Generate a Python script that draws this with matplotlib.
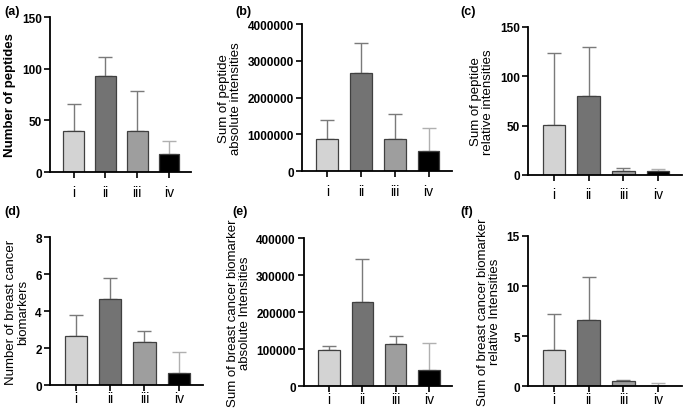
import matplotlib
matplotlib.use('Agg')
import matplotlib.pyplot as plt

plt.rcParams['font.family'] = ['Liberation Sans', 'DejaVu Sans']

groups = ['i', 'ii', 'iii', 'iv']
colors = ['#d3d3d3', '#737373', '#9e9e9e', '#000000']
err_colors = ['#7a7a7a', '#7a7a7a', '#7a7a7a', '#b0b0b0']

# mean values and upper error ends
pep_count = [40, 93, 40, 17.5]
pep_count_top = [66, 111, 78, 30]
pep_abs = [870000, 2670000, 870000, 560000]
pep_abs_top = [1400000, 3480000, 1550000, 1170000]
pep_rel = [51, 80, 4, 4]
pep_rel_top = [124, 130, 7, 5.5]
bio_count = [2.67, 4.67, 2.33, 0.67]
bio_count_top = [3.82, 5.82, 2.92, 1.82]
bio_abs = [97000, 228000, 113000, 44000]
bio_abs_top = [107000, 342000, 135000, 117000]
bio_rel = [3.65, 6.6, 0.55, 0.02]
bio_rel_top = [7.2, 10.9, 0.65, 0.3]

panels = [
    ('(a)', 'Number of peptides', pep_count, pep_count_top, [0, 50, 100, 150], True),
    ('(b)', 'Sum of peptide\nabsolute intensities', pep_abs, pep_abs_top,
     [0, 1000000, 2000000, 3000000, 4000000], False),
    ('(c)', 'Sum of peptide\nrelative intensities', pep_rel, pep_rel_top, [0, 50, 100, 150], False),
    ('(d)', 'Number of breast cancer\nbiomarkers', bio_count, bio_count_top, [0, 2, 4, 6, 8], False),
    ('(e)', 'Sum of breast cancer biomarker\nabsolute Intensities', bio_abs, bio_abs_top,
     [0, 100000, 200000, 300000, 400000], False),
    ('(f)', 'Sum of breast cancer biomarker\nrelative Intensities', bio_rel, bio_rel_top, [0, 5, 10, 15], False),
]

# axes rectangles in figure fraction
rects = [
    [0.073, 0.578, 0.206, 0.378],
    [0.441, 0.580, 0.219, 0.359],
    [0.771, 0.571, 0.225, 0.361],
    [0.073, 0.058, 0.223, 0.361],
    [0.444, 0.056, 0.216, 0.361],
    [0.771, 0.056, 0.225, 0.366],
]
tag_pos = [(0.006, 0.985), (0.343, 0.985), (0.672, 0.985),
           (0.006, 0.498), (0.339, 0.498), (0.672, 0.498)]
xpads = [5, 5, 5, 0.5, 0.5, 0.5]

fig = plt.figure(figsize=(6.85, 4.10), dpi=100)

for (tag, ylab, vals, tops, yt, boldlab), rect, tp, xp in zip(panels, rects, tag_pos, xpads):
    ax = fig.add_axes(rect)
    x = list(range(len(groups)))
    ax.bar(x, vals, width=0.65, color=colors, edgecolor='#404040', linewidth=0.9, zorder=2)
    for xi, v, t, ec in zip(x, vals, tops, err_colors):
        ax.errorbar(xi, v, yerr=[[0], [t - v]], fmt='none', ecolor=ec,
                    elinewidth=1.0, capsize=5, capthick=1.0, zorder=1)
    ax.set_xlim(-0.75, 3.7)
    ax.set_ylim(yt[0], yt[-1])
    ax.set_yticks(yt)
    ax.set_yticklabels([str(v) for v in yt], fontsize=8.5, fontweight='bold')
    ax.set_xticks(x)
    ax.set_xticklabels(groups, fontsize=10)
    for s in ['top', 'right']:
        ax.spines[s].set_visible(False)
    for s in ['left', 'bottom']:
        ax.spines[s].set_linewidth(1.3)
    ax.tick_params(axis='both', length=4, width=1.2, pad=2)
    ax.tick_params(axis='x', pad=xp)
    ax.set_ylabel(ylab, fontsize=9.5, fontweight='bold' if boldlab else 'normal',
                  linespacing=1.0, labelpad=4)
    fig.text(tp[0], tp[1], tag, fontsize=9, fontweight='bold', va='top', ha='left')

fig.savefig('out.png', dpi=100)
